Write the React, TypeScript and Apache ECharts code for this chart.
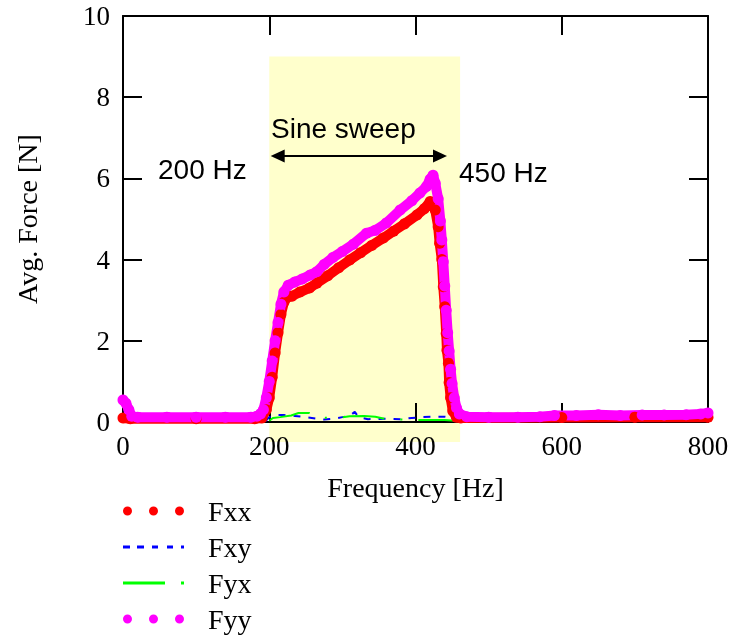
import React, { useEffect, useRef } from "react";
import * as echarts from "echarts";

// ---------- data ----------
const fxxFreq = [0, 10, 100, 180, 190, 196, 200, 204, 208, 212, 216, 220, 225, 231, 242, 255, 265, 280, 295, 310, 325, 340, 356, 370, 385, 402, 412, 420, 427, 431, 433, 436, 438, 440, 442, 443, 445, 446, 448, 451, 456, 462, 600, 700, 800];
const fxxVals = [0.1, 0.08, 0.08, 0.08, 0.1, 0.3, 0.6, 1.1, 1.7, 2.2, 2.65, 2.95, 3.08, 3.1, 3.2, 3.3, 3.42, 3.6, 3.8, 3.99, 4.17, 4.35, 4.53, 4.7, 4.88, 5.1, 5.25, 5.43, 5.22, 4.81, 4.4, 4.0, 3.33, 2.84, 2.18, 1.77, 1.45, 0.97, 0.6, 0.27, 0.12, 0.1, 0.11, 0.12, 0.12];

const fxyFreq = [195, 200, 210, 220, 235, 250, 265, 275, 290, 300, 310, 317, 322, 335, 360, 380, 395, 410, 425, 440, 450];
const fxyVals = [0.02, 0.12, 0.17, 0.17, 0.15, 0.12, 0.08, 0.06, 0.08, 0.12, 0.15, 0.25, 0.12, 0.07, 0.08, 0.07, 0.1, 0.12, 0.13, 0.13, 0.1];

const fyxFreq = [200, 205, 215, 230, 240, 255, 262, 268, 280, 295, 310, 330, 345, 360, 380, 400, 420, 440, 455];
const fyxVals = [0.03, 0.1, 0.12, 0.16, 0.22, 0.22, 0.18, 0.12, 0.1, 0.1, 0.14, 0.15, 0.13, 0.07, 0.06, 0.05, 0.05, 0.05, 0.03];

const fyyFreq = [0, 4, 8, 12, 20, 60, 100, 140, 175, 183, 188, 192, 196, 200, 204, 208, 212, 216, 220, 226, 235, 245, 256, 265, 275, 287, 300, 315, 333, 345, 360, 379, 395, 406, 415, 420, 424, 427, 431, 434, 436, 438, 440, 442, 444, 446, 448, 450, 453, 456, 460, 470, 500, 540, 570, 590, 620, 650, 680, 710, 740, 770, 790, 800];
const fyyVals = [0.54, 0.46, 0.3, 0.14, 0.12, 0.12, 0.12, 0.12, 0.12, 0.14, 0.2, 0.3, 0.6, 1.0, 1.5, 2.0, 2.45, 2.9, 3.2, 3.37, 3.45, 3.52, 3.62, 3.7, 3.88, 4.05, 4.2, 4.38, 4.65, 4.72, 4.9, 5.22, 5.45, 5.64, 5.8, 5.98, 6.08, 5.88, 5.5, 4.95, 4.48, 3.95, 3.35, 2.75, 2.2, 1.75, 1.3, 0.95, 0.6, 0.35, 0.2, 0.13, 0.12, 0.12, 0.13, 0.16, 0.16, 0.18, 0.16, 0.17, 0.17, 0.18, 0.2, 0.22];

const seriesNames = ["Fxx", "Fxy", "Fyx", "Fyy"];
const xTicks = { min: 0, max: 800, step: 200 };
const yTicks = { min: 0, max: 10, step: 2 };
const sweepBand = [200, 461];
const sweepTop = 9;
const arrowRange = [211.5, 433.5];
const arrowLevel = 6.55;

const pairs = (xs: number[], ys: number[]) => xs.map((x, i) => [x, ys[i]]);

// legend icons
const circ = (cx: number) => `M${cx - 4.5},4.5a4.5,4.5 0 1,0 9,0a4.5,4.5 0 1,0 -9,0Z`;
const dotsIcon = "path://" + circ(4.5) + circ(30.5) + circ(56.5);
const dashIcon = "path://M0,0h7v3h-7ZM14,0h7v3h-7ZM29,0h6v3h-6ZM44,0h6v3h-6ZM58,0h3v3h-3Z";
const dashDotIcon = "path://M0,0h42v3h-42ZM58,0h3v3h-3Z";

const serif = "'Liberation Serif', 'Times New Roman', serif";
const sans = "'Liberation Sans', Arial, sans-serif";

export default function App() {
  const ref = useRef<HTMLDivElement>(null);
  useEffect(() => {
    if (!ref.current) return;
    const chart = echarts.init(ref.current, undefined, { renderer: "svg" });
    const axisLine = { show: true, onZero: false, lineStyle: { color: "#000", width: 2 } };
    const axisTick = { show: true, inside: true, length: 19, lineStyle: { color: "#000", width: 2 } };
    const bigDots = (color: string) => ({
      type: "line" as const,
      showSymbol: true,
      symbol: "circle",
      symbolSize: 11,
      itemStyle: { color },
      lineStyle: { color, width: 10 },
      xAxisIndex: 0,
      yAxisIndex: 0,
    });
    chart.setOption({
      animation: false,
      grid: { left: 123, top: 16, width: 585, height: 406, containLabel: false },
      xAxis: [
        {
          type: "value", position: "bottom", min: xTicks.min, max: xTicks.max, interval: xTicks.step,
          axisLine, axisTick, splitLine: { show: false },
          axisLabel: { fontFamily: serif, fontSize: 27, color: "#000", margin: 10 },
          name: "Frequency [Hz]", nameLocation: "middle", nameGap: 51,
          nameTextStyle: { fontFamily: serif, fontSize: 28, color: "#000" },
        },
        {
          type: "value", position: "top", min: xTicks.min, max: xTicks.max, interval: xTicks.step,
          axisLine, axisTick, splitLine: { show: false }, axisLabel: { show: false },
        },
      ],
      yAxis: [
        {
          type: "value", position: "left", min: yTicks.min, max: yTicks.max, interval: yTicks.step,
          axisLine, axisTick, splitLine: { show: false },
          axisLabel: { fontFamily: serif, fontSize: 27, color: "#000", margin: 13 },
          name: "Avg. Force [N]", nameLocation: "middle", nameGap: 82, nameRotate: 90,
          nameTextStyle: { fontFamily: serif, fontSize: 28, color: "#000" },
        },
        {
          type: "value", position: "right", min: yTicks.min, max: yTicks.max, interval: yTicks.step,
          axisLine, axisTick, splitLine: { show: false }, axisLabel: { show: false },
        },
      ],
      legend: {
        orient: "vertical",
        left: 123,
        top: 495,
        padding: 0,
        itemWidth: 61,
        itemHeight: 9,
        itemGap: 4,
        symbolKeepAspect: true,
        selectedMode: false,
        textStyle: { fontFamily: serif, fontSize: 28, color: "#000", lineHeight: 30, padding: [2, 0, 0, 19] },
        data: [
          { name: seriesNames[0], icon: dotsIcon, itemStyle: { color: "#FF0000" } },
          { name: seriesNames[1], icon: dashIcon, itemStyle: { color: "#0000FF" } },
          { name: seriesNames[2], icon: dashDotIcon, itemStyle: { color: "#00FF00" } },
          { name: seriesNames[3], icon: dotsIcon, itemStyle: { color: "#FF00FF" } },
        ],
      },
      series: [
        {
          ...bigDots("#FF0000"),
          name: seriesNames[0],
          data: pairs(fxxFreq, fxxVals),
          markLine: {
            silent: true,
            symbol: ["triangle", "triangle"],
            symbolSize: [13, 14],
            label: { show: false },
            lineStyle: { color: "#000", width: 2, type: "solid" },
            itemStyle: { color: "#000" },
            data: [[{ coord: [arrowRange[0], arrowLevel] }, { coord: [arrowRange[1], arrowLevel] }]],
          },
        },
        {
          type: "line", name: seriesNames[1], showSymbol: false, symbol: "none",
          itemStyle: { color: "#0000FF" },
          lineStyle: { color: "#0000FF", width: 2, type: [7, 8] },
          data: pairs(fxyFreq, fxyVals),
        },
        {
          type: "line", name: seriesNames[2], showSymbol: false, symbol: "none",
          itemStyle: { color: "#00FF00" },
          lineStyle: { color: "#00FF00", width: 2, type: [42, 16, 2, 16] },
          data: pairs(fyxFreq, fyxVals),
        },
        { ...bigDots("#FF00FF"), name: seriesNames[3], data: pairs(fyyFreq, fyyVals) },
      ],
    });

    const p1 = chart.convertToPixel({ xAxisIndex: 0, yAxisIndex: 0 }, [sweepBand[0], sweepTop]) as number[];
    const p2 = chart.convertToPixel({ xAxisIndex: 0, yAxisIndex: 0 }, [sweepBand[1], 0]) as number[];
    chart.setOption({
      graphic: [
        {
          type: "rect", z: -10, silent: true,
          shape: { x: p1[0], y: p1[1], width: p2[0] - p1[0], height: p2[1] - p1[1] + 20 },
          style: { fill: "#FFFFCC" },
        },
        { type: "text", x: 271, y: 128, z: 10, style: { text: "Sine sweep", fontFamily: sans, fontSize: 28, fill: "#000", align: "left", verticalAlign: "middle" } },
        { type: "text", x: 158, y: 169, z: 10, style: { text: "200 Hz", fontFamily: sans, fontSize: 28, fill: "#000", align: "left", verticalAlign: "middle" } },
        { type: "text", x: 459, y: 172, z: 10, style: { text: "450 Hz", fontFamily: sans, fontSize: 28, fill: "#000", align: "left", verticalAlign: "middle" } },
      ],
    });
    return () => chart.dispose();
  }, []);
  return <div ref={ref} style={{ position: "fixed", left: 0, top: 0, width: 733, height: 635 }} />;
}
